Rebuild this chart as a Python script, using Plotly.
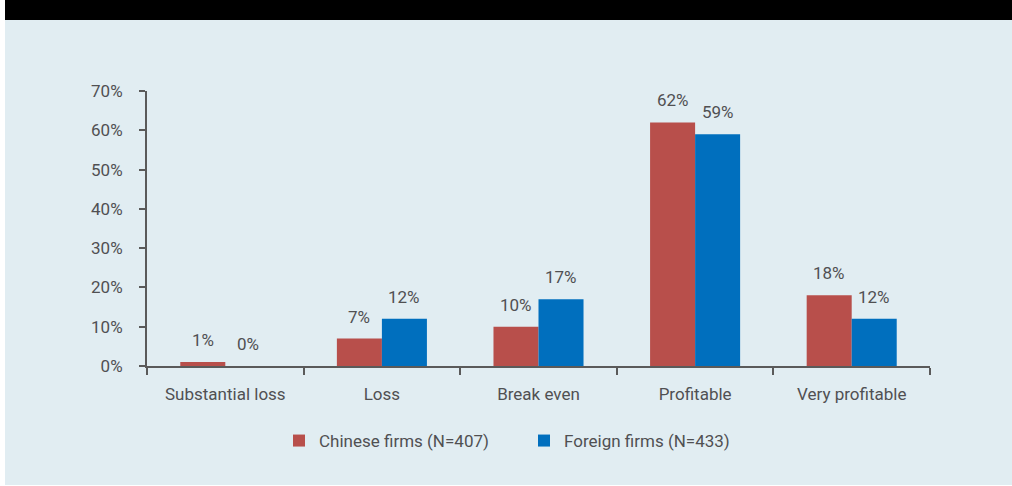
import plotly.graph_objects as go

categories = ["Substantial loss", "Loss", "Break even", "Profitable", "Very profitable"]
chinese = [1, 7, 10, 62, 18]
foreign = [0, 12, 17, 59, 12]
series_names = ["Chinese firms (N=407)", "Foreign firms (N=433)"]
y_ticks = [0, 10, 20, 30, 40, 50, 60, 70]
y_tick_labels = [f"{v}%" for v in y_ticks]

RED = "#b84f4b"
BLUE = "#006fbe"
BG = "#e1edf2"
TXT = "#505052"
FONT = "Roboto, Liberation Sans, sans-serif"
FS = 17

W, H = 1012, 486
L, R, T, B = 147, 82, 91, 120
pw, ph = W - L - R, H - T - B

fig = go.Figure()
fig.add_trace(go.Bar(x=categories, y=chinese, name=series_names[0],
                     marker=dict(color=RED, line=dict(width=0))))
fig.add_trace(go.Bar(x=categories, y=foreign, name=series_names[1],
                     marker=dict(color=BLUE, line=dict(width=0))))

bar_w = 45
for vals, shift in ((chinese, -bar_w / 2), (foreign, bar_w / 2)):
    for c, v in zip(categories, vals):
        fig.add_annotation(x=c, y=v, text=f"{v}%", showarrow=False,
                           xshift=shift, yshift=10, yanchor="bottom",
                           font=dict(family=FONT, size=FS, color=TXT))

def px_x(p):
    return (p - L) / pw

def px_y(p):
    return (H - B - p) / ph

shapes = [
    dict(type="rect", xref="paper", yref="paper", x0=px_x(-2), x1=px_x(W + 2),
         y0=px_y(20), y1=px_y(-2), fillcolor="black", line=dict(width=0), layer="below"),
    dict(type="rect", xref="paper", yref="paper", x0=px_x(-2), x1=px_x(5),
         y0=px_y(H + 2), y1=px_y(-2), fillcolor="white", line=dict(width=0), layer="below"),
    dict(type="rect", xref="paper", yref="paper", x0=px_x(-2), x1=px_x(W + 2),
         y0=px_y(H + 2), y1=px_y(H - 1), fillcolor="white", line=dict(width=0), layer="below"),
]

fig.update_layout(
    width=W, height=H,
    margin=dict(l=L, r=R, t=T, b=B, pad=0),
    paper_bgcolor=BG, plot_bgcolor=BG,
    barmode="group", bargap=0.425, bargroupgap=0,
    font=dict(family=FONT, size=FS, color=TXT),
    shapes=shapes,
    showlegend=True,
    legend=dict(orientation="h", x=px_x(279), xanchor="left", y=px_y(441), yanchor="middle",
                font=dict(family=FONT, size=FS, color=TXT),
                entrywidth=200, entrywidthmode="pixels",
                bgcolor="rgba(0,0,0,0)", itemclick=False),
    xaxis=dict(showline=True, linecolor="#5a5a5a", linewidth=2,
               ticks="outside", ticklen=7, tickwidth=2, tickcolor="#5a5a5a",
               tickson="boundaries", showgrid=False, zeroline=False,
               tickfont=dict(family=FONT, size=FS, color=TXT), ticklabelstandoff=12),
    yaxis=dict(range=[0, 70], tickvals=y_ticks, ticktext=y_tick_labels,
               showline=True, linecolor="#5a5a5a", linewidth=2,
               ticks="outside", ticklen=6, tickwidth=2, tickcolor="#5a5a5a",
               showgrid=False, zeroline=False,
               tickfont=dict(family=FONT, size=FS, color=TXT), ticklabelstandoff=13),
)

fig.write_html("out.html", config={"displayModeBar": False},
               post_script="document.body.style.margin='0';document.body.style.overflow='hidden';")
